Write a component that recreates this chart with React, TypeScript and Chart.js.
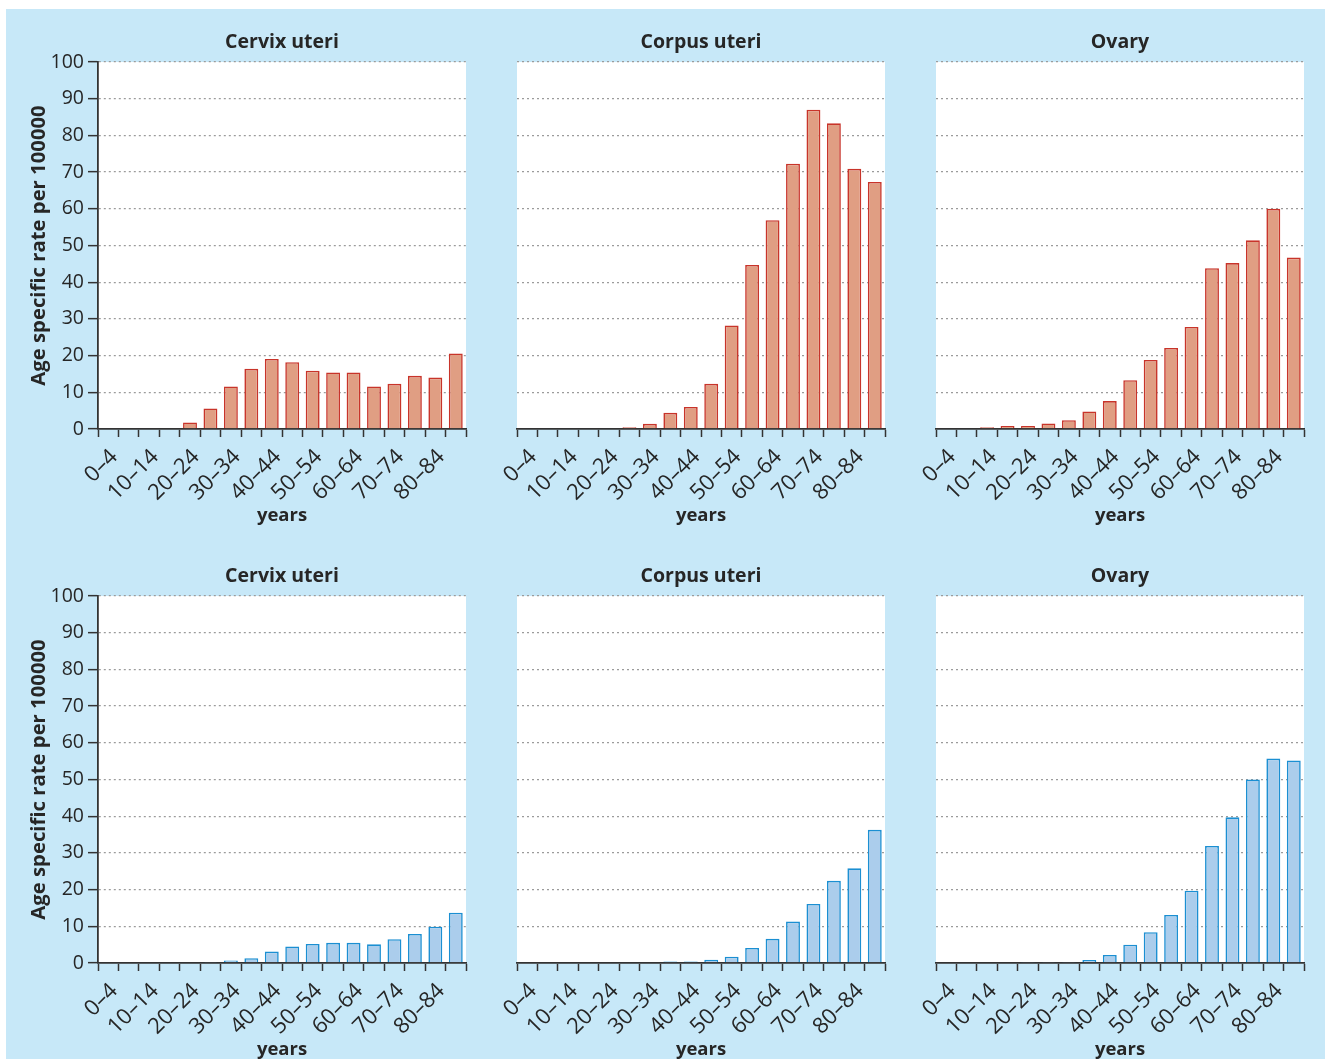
import React, { useEffect, useRef } from 'react';
import { Chart, registerables } from 'chart.js';

Chart.register(...registerables);

// ---- data ----
const AGE_GROUPS = ['0–4', '5–9', '10–14', '15–19', '20–24', '25–29', '30–34', '35–39', '40–44', '45–49', '50–54', '55–59', '60–64', '65–69', '70–74', '75–79', '80–84', '85+'];
const PANEL_TITLES = ['Cervix uteri', 'Corpus uteri', 'Ovary'];
const Y_MIN = 0;
const Y_MAX = 100;
const Y_STEP = 10;
const Y_TITLE = 'Age specific rate per 100000';
const X_TITLE = 'years';

const TOP_CERVIX = [0, 0, 0, 0, 1.8, 5.6, 11.6, 16.4, 19.1, 18.2, 15.9, 15.4, 15.4, 11.6, 12.3, 14.5, 14.0, 20.6];
const TOP_CORPUS = [0, 0, 0, 0, 0, 0.5, 1.4, 4.4, 6.0, 12.3, 28.2, 44.7, 56.9, 72.3, 87.0, 83.3, 70.9, 67.3];
const TOP_OVARY = [0, 0, 0.5, 0.85, 0.85, 1.5, 2.4, 4.8, 7.6, 13.3, 18.8, 22.1, 27.8, 43.8, 45.2, 51.4, 60.0, 46.7];
const BOTTOM_CERVIX = [0, 0, 0, 0, 0, 0.3, 0.7, 1.3, 3.1, 4.5, 5.2, 5.5, 5.5, 5.1, 6.5, 7.9, 9.9, 13.7];
const BOTTOM_CORPUS = [0, 0, 0, 0, 0, 0, 0, 0.4, 0.4, 0.9, 1.7, 4.1, 6.6, 11.3, 16.1, 22.4, 25.8, 36.3];
const BOTTOM_OVARY = [0, 0, 0, 0, 0.3, 0.3, 0.3, 0.8, 2.2, 5.0, 8.4, 13.1, 19.7, 31.9, 39.7, 50.0, 55.7, 55.2];

const ROWS = [
  { values: [TOP_CERVIX, TOP_CORPUS, TOP_OVARY], fill: '#e09e83', border: '#c8342a' },
  { values: [BOTTOM_CERVIX, BOTTOM_CORPUS, BOTTOM_OVARY], fill: '#abcdec', border: '#1b8fd2' },
];

// ---- layout ----
const BG = '#c7e8f8';
const FONT = "'Open Sans', 'Noto Sans', sans-serif";
const TEXT = '#262626';
const AXIS = '#333333';
const CONTAINER_X = 6;
const CONTAINER_Y = 9;
const PLOT_W = 368;
const PLOT_H = 367;
const PLOT_X0 = 98;
const PLOT_DX = 419;
const PLOT_Y0 = 62;
const PLOT_DY = 534;
const TITLE_SPACE = 53;
const XAXIS_H = 96;
const RIGHT_PAD = 8;

const whiteArea = {
  id: 'whiteArea',
  beforeDraw(chart: any) {
    const { ctx, chartArea } = chart;
    if (!chartArea) return;
    ctx.save();
    ctx.fillStyle = '#ffffff';
    ctx.fillRect(chartArea.left, chartArea.top, chartArea.right - chartArea.left, chartArea.bottom - chartArea.top);
    ctx.restore();
  },
};

function Panel(props: { row: number; col: number }) {
  const { row, col } = props;
  const ref = useRef<HTMLCanvasElement>(null);
  const showY = col === 0;
  const yw = showY ? 92 : 41;
  const plotLeft = PLOT_X0 + PLOT_DX * col;
  const plotTop = PLOT_Y0 + PLOT_DY * row;
  const w = yw + PLOT_W + RIGHT_PAD;
  const h = TITLE_SPACE + PLOT_H + XAXIS_H;
  const left = plotLeft - yw - CONTAINER_X;
  const top = plotTop - TITLE_SPACE - CONTAINER_Y;

  useEffect(() => {
    const r = ROWS[row];
    const chart = new Chart(ref.current as HTMLCanvasElement, {
      type: 'bar',
      data: {
        labels: AGE_GROUPS,
        datasets: [
          {
            data: r.values[col],
            backgroundColor: r.fill,
            borderColor: r.border,
            borderWidth: 1.6,
            barPercentage: 0.68,
            categoryPercentage: 1,
          },
        ],
      },
      options: {
        animation: false,
        responsive: false,
        devicePixelRatio: 1,
        layout: { padding: { left: 0, right: RIGHT_PAD, top: 0, bottom: 0 } },
        plugins: {
          legend: { display: false },
          tooltip: { enabled: false },
          title: {
            display: true,
            text: PANEL_TITLES[col],
            fullSize: false,
            color: TEXT,
            font: { family: FONT, size: 19.5, weight: 'bold', lineHeight: 1.2 },
            padding: { top: 21.3, bottom: 8.3 },
          },
        },
        scales: {
          x: {
            type: 'category',
            offset: true,
            grid: {
              display: true,
              offset: true,
              drawOnChartArea: false,
              drawTicks: true,
              tickLength: 8,
              tickColor: AXIS,
              tickWidth: 1.5,
            },
            border: { display: true, color: AXIS, width: 1.8 },
            ticks: {
              autoSkip: false,
              minRotation: 45,
              maxRotation: 45,
              padding: 7,
              labelOffset: 6,
              color: TEXT,
              font: { family: FONT, size: 22 },
              callback: (_v: any, i: number) => (i % 2 === 0 ? AGE_GROUPS[i] : ''),
            },
            title: {
              display: true,
              text: X_TITLE,
              color: TEXT,
              font: { family: FONT, size: 18.5, weight: 'bold', lineHeight: 1 },
              padding: { top: 0, bottom: 0.5 },
            },
            afterFit: (s: any) => {
              s.height = XAXIS_H;
              s.paddingLeft = 0;
              s.paddingRight = 0;
            },
          },
          y: {
            type: 'linear',
            min: Y_MIN,
            max: Y_MAX,
            ticks: {
              display: showY,
              stepSize: Y_STEP,
              padding: 4,
              color: TEXT,
              font: { family: FONT, size: 19.5 },
            },
            grid: {
              display: true,
              drawTicks: showY,
              tickLength: 10,
              tickColor: AXIS,
              tickWidth: 1.5,
              color: (c: any) => (c.tick && c.tick.value === 0 ? 'rgba(0,0,0,0)' : '#9b9b9b'),
              lineWidth: 1.3,
            },
            border: { display: showY, color: AXIS, width: 1.8, dash: [2, 3] },
            title: {
              display: showY,
              text: Y_TITLE,
              color: TEXT,
              font: { family: FONT, size: 20.3, weight: 'bold', lineHeight: 1.2 },
              padding: { top: 21, bottom: 0 },
            },
            afterFit: (s: any) => {
              s.width = yw;
            },
          },
        },
      },
      plugins: [whiteArea],
    } as any);
    return () => chart.destroy();
  }, []);

  return (
    <canvas
      ref={ref}
      width={w}
      height={h}
      style={{ position: 'absolute', left, top, width: w, height: h }}
    />
  );
}

export default function App() {
  const panels = [];
  for (let row = 0; row < 2; row++) {
    for (let col = 0; col < 3; col++) {
      panels.push(<Panel key={`${row}-${col}`} row={row} col={col} />);
    }
  }
  return (
    <div
      style={{
        position: 'absolute',
        left: CONTAINER_X,
        top: CONTAINER_Y,
        width: 1325 - CONTAINER_X,
        height: 1059 - CONTAINER_Y,
        background: BG,
        overflow: 'hidden',
      }}
    >
      {panels}
    </div>
  );
}
